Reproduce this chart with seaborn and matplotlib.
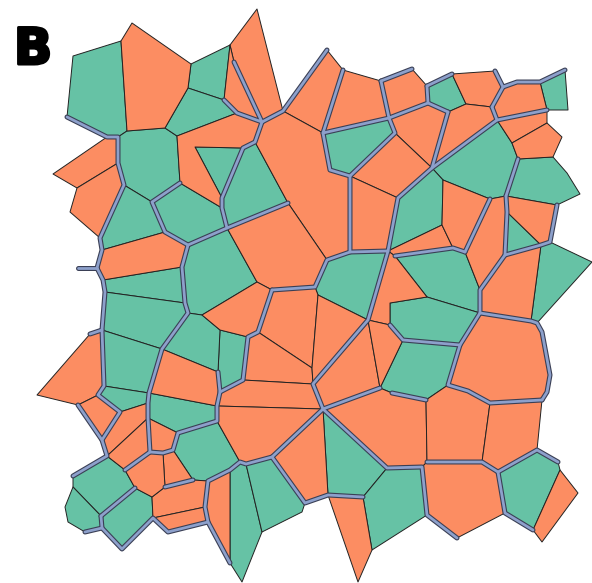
import matplotlib
matplotlib.use("Agg")
import matplotlib.pyplot as plt
import seaborn as sns
from matplotlib.patches import Polygon
from matplotlib.collections import PatchCollection, LineCollection
from matplotlib import patheffects as pe

sns.set_theme(style="white")
pal = sns.color_palette("Set2")
TEAL, ORANGE, CABLE = pal[0], pal[1], pal[2]

# tissue vertices (x, y), image-style coordinates (y grows downward)
A1, A2, A3, A4, A5 = (73, 56), (121, 41), (132, 23), (191, 64), (188, 88)
A6, A7, A8, A9, A10 = (165, 128), (127, 131), (118, 137), (107, 137), (67, 117)
A11, A12, A13, A14, A15 = (177, 136), (180, 183), (152, 202), (124, 185), (118, 163)
A16, A17, A18, A19 = (53, 174), (77, 188), (100, 238), (70, 212)
C1, C2, C3 = (230, 45), (224, 100), (237, 113)
S1, S2, S3, S4 = (257, 9), (283, 111), (262, 122), (234, 62)
F1, F2, F3, F4, F5 = (255, 142), (243, 148), (195, 147), (222, 198), (222, 208)
G1, G2 = (288, 203), (227, 228)
H1, H2, L1 = (188, 245), (165, 232), (102, 250)
T1, T2, T3 = (327, 50), (343, 70), (323, 133)
V1, V2 = (381, 81), (389, 118)
Q2, Q3, QR = (330, 170), (350, 176), (395, 133)
P1, J1, J2, J3, J4 = (350, 252), (327, 260), (315, 287), (272, 290), (257, 282)
W1, W2, W3 = (412, 69), (427, 86), (428, 103)
X1, X2, X3 = (452, 74), (466, 104), (448, 112)
Y1, Y2, Y3 = (495, 71), (503, 87), (492, 107)
Z1, Z2, Z3, Z4 = (517, 82), (540, 82), (547, 110), (497, 120)
AA1, AA2 = (565, 70), (568, 110)
AB2, AB3, AB5, AB6, AB7 = (547, 123), (512, 143), (518, 159), (562, 137), (553, 157)
AG2a, AG2b, AG2c = (567, 173), (580, 194), (557, 205)
AE1, AD1, AH2, AH3 = (432, 168), (398, 198), (443, 180), (442, 225)
R1, R2 = (490, 199), (506, 196)
AI2a, AI2b, AJ2b = (453, 248), (395, 256), (465, 252)
AK2b, AK2c, AK2d = (507, 212), (505, 255), (480, 290)
AL2a, AM2a = (541, 245), (550, 242)
AN1, AN2, AN3, AO1 = (592, 262), (537, 323), (531, 321), (480, 313)
AQ1, AP1 = (427, 297), (390, 303)
AR1, AR2, AR3 = (460, 345), (403, 340), (390, 325)
AS1, AS2, AS3, AS4, AS5 = (542, 332), (550, 375), (547, 392), (542, 400), (490, 403)
BV1, AT1, AT2, AT3, AX1 = (468, 391), (448, 385), (426, 400), (392, 393), (380, 388)
K1, K2, K3 = (182, 267), (103, 280), (97, 268)
M1, M2 = (185, 303), (105, 292)
N1, N2, N3, I1 = (188, 313), (162, 349), (102, 330), (202, 315)
QQ1, QQ2, QQ3 = (388, 251), (368, 320), (318, 295)
AJ0, AJ1, AJ3 = (248, 337), (258, 332), (243, 380)
AK1, AL_b, AM1 = (220, 330), (220, 392), (218, 372)
AW1, AW2, AZ2, BU0 = (313, 384), (312, 368), (217, 406), (323, 409)
BU5, BT1, BR2, BR3, BQ1 = (427, 462), (422, 467), (387, 468), (363, 497), (328, 495)
BV2, BW1, BW2 = (482, 462), (537, 450), (498, 472)
BX1, BX2, BX3, BZ1, BZ2 = (558, 462), (560, 470), (533, 530), (505, 513), (457, 538)
BY1, BY2 = (578, 493), (542, 542)
BT2, BT3, BS1 = (427, 515), (372, 550), (358, 582)
BA1, BO1, XA, BJ2 = (272, 457), (246, 464), (240, 462), (217, 421)
BP1, BP2, BO2, BO3 = (305, 503), (302, 512), (262, 532), (242, 582)
BN1, BN3, BN4, BN5, BO4 = (208, 481), (230, 563), (208, 522), (205, 507), (230, 470)
BM2a = (168, 532)
O4a, O4b, O4c, O4d, O4e = (90, 334), (104, 386), (98, 395), (78, 405), (37, 395)
O5r, O5s, O6a, O6b = (149, 393), (148, 403), (120, 412), (102, 440)
BI0, BDm, BH1, BDb = (148, 418), (107, 456), (150, 452), (125, 470)
BH2, BH3, BH4, BE2 = (163, 453), (165, 487), (152, 497), (135, 488)
BI1, BI2, BK1 = (178, 433), (173, 450), (193, 480)
BE1, BE3, BE4 = (73, 476), (101, 516), (73, 487)
BF1, BF2, BF3, BF4 = (102, 528), (85, 532), (68, 522), (65, 507)
BG1, BG2 = (153, 518), (122, 549)
DANGLE = (78, 268)

# cells of each type, as vertex rings
teal_cells = [
    [A1, A2, A7, A8, A9, A10],
    [A8, A7, A6, A11, A12, A13, A14, A15],
    [A4, C1, C2, A5],
    [A5, C2, C3, A11, A6],
    [F3, F2, F4],
    [F2, F1, G1, G2, F5, F4],
    [A13, A12, F5, G2, H1, H2],
    [A14, A13, H2, L1, A18],
    [W2, X1, X2, X3, W3],
    [Z2, AA1, AA2, Z3],
    [K2, K1, M1, M2],
    [M2, M1, N1, N2, N3],
    [H1, G2, J4, I1, N1, M1, K1],
    [T3, V2, QR, Q3, Q2],
    [J1, P1, QQ1, QQ2, QQ3, J2],
    [AE1, Z4, AB3, AB5, R2, R1, AH2],
    [AB5, AB7, AG2a, AG2b, AG2c, R2],
    [AD1, AE1, AH2, AH3, QQ1],
    [AK2b, AL2a, AK2c],
    [AL2a, AM2a, AN1, AN2, AN3],
    [AI2b, AI2a, AJ2b, AK2d, AO1, AQ1],
    [AP1, AQ1, AO1, AR1, AR2, AR3],
    [AR2, AR1, AT1, AT2, AT3, AX1],
    [AK1, AJ0, AJ3, AL_b, AM1],
    [N1, I1, AK1, AM1, N2],
    [N3, N2, O5r, O4b],
    [O4b, O5r, O5s, O6a, O4c],
    [O5r, AZ2, BJ2, BI1, BI0, O5s],
    [BI1, BJ2, XA, BO4, BN1, BK1, BI2],
    [BE1, BDm, BDb, BE2, BE3, BE4],
    [BE4, BE3, BF1, BF2, BF3, BF4],
    [BE3, BE2, BH4, BG1, BG2, BF1],
    [XA, BO1, BO2, BO3, BN3, BO4],
    [BO1, BA1, BP1, BP2, BO2],
    [BU0, BR2, BR3, BQ1],
    [BR2, BT1, BT2, BT3, BR3],
    [BW2, BW1, BX1, BX2, BX3, BZ1],
]
orange_cells = [
    [A2, A3, A4, A5, A6, A7],
    [A16, A9, A8, A15, A17],
    [A17, A15, A14, A18, A19],
    [S1, S2, S3, S4, C1],
    [C1, S4, S3, C3, C2],
    [A11, C3, S3, F1, F2, F3, F4, F5, A12],
    [S2, T1, T2, T3],
    [S3, S2, T3, Q2, Q3, P1, J1, G1, F1],
    [T2, V1, V2, T3],
    [V1, W1, W2, W3, V2],
    [X1, Y1, Y2, Y3, X2],
    [Y2, Z1, Z2, Z3, Z4, Y3],
    [L1, H2, H1, K1, K2, K3],
    [G2, G1, J1, J2, J3, J4],
    [Z4, Z3, AB2, AB3],
    [AB3, AB2, AB6, AB7, AB5],
    [X3, X2, Y3, Z4, AE1],
    [V2, W3, X3, AE1, QR],
    [QR, AE1, AD1, Q3],
    [Q3, AD1, QQ1, P1],
    [QQ1, AH3, AI2a, AI2b],
    [AH2, R1, AJ2b, AI2a, AH3],
    [R1, R2, AK2b, AK2c, AK2d, AJ2b],
    [R2, AG2c, AM2a, AL2a, AK2b],
    [AK2c, AL2a, AN3, AO1, AK2d],
    [QQ1, AI2b, AQ1, AP1, AR3, QQ2],
    [AO1, AN3, AN2, AS1, AS2, AS3, AS4, AS5, BV1, AT1, AR1],
    [I1, J4, J3, AJ1, AJ0, AK1],
    [J3, J2, QQ3, AW2, AJ1],
    [AJ0, AJ1, AW2, AW1, AJ3],
    [QQ3, QQ2, AW1, AW2],
    [AW1, QQ2, AX1, BU0],
    [QQ2, AR3, AR2, AX1],
    [AJ3, AW1, BU0, AZ2, AL_b],
    [N2, AM1, AL_b, AZ2, O5r],
    [BU0, AX1, AT3, AT2, BU5, BT1, BR2],
    [AT2, AT1, BV1, AS5, BV2, BU5],
    [AS5, AS4, BW1, BW2, BV2],
    [BU5, BV2, BW2, BZ1, BZ2, BT2, BT1],
    [BX2, BY1, BY2, BX3],
    [BQ1, BR3, BT3, BS1],
    [BA1, BU0, BQ1, BP1],
    [AZ2, BU0, BA1, BO1, XA, BJ2],
    [BN1, BO4, BN3, BN4, BN5],
    [BH4, BH3, BK1, BN1, BN5, BG1],
    [BG1, BN5, BN4, BM2a],
    [BH2, BI2, BK1, BH3],
    [BI0, BI1, BI2, BH2, BH1],
    [BDb, BH1, BH2, BH3, BH4, BE2],
    [O6b, O6a, O5s, BI0, BDm],
    [BDm, BI0, BH1, BDb],
    [O4a, N3, O4b, O4c, O4d, O4e],
    [O4d, O4c, O6a, O6b],
]

# contractile cables along cell junctions
cables = [
    [A10, A9, A8, A15, A14, A18, L1, K3, K2, M2, N3, O4b, O4c, O6a, O6b],
    [O4a, N3],
    [K3, DANGLE],
    [O4d, O6b, BDm, BE1],
    [A12, A13, H2, H1, G2, F5, F4, F2, F1, S3],
    [S4, S3, C3, C2],
    [S3, S2, T1],
    [T2, T3, Q2, Q3, P1],
    [G2, G1],
    [J3, J2, J1, P1, QQ1, QQ2, AW1, BU0, AX1],
    [H1, K1, M1, N1, N2, O5r, O5s, BI0, BH1, BH2, BI2, BI1, BJ2, AZ2, AL_b, AM1],
    [V1, V2, T3], [V2, QR, Q3],
    [V1, W1], [W2, W3, V2], [W2, X1], [W3, X3],
    [Y1, Y2, Y3], [Y2, Z1, Z2, AA1], [Y3, Z4, Z3],
    [X3, AE1, AD1, QQ1], [Z4, AE1],
    [AB5, R2], [R1, AJ2b], [AI2b, AI2a, AJ2b],
    [R2, AK2b, AK2c, AK2d, AO1, AN3, AN2, AS1, AS2, AS3, AS4],
    [AK2c, AL2a, AM2a, AG2c],
    [AR3, AR2, AR1, AO1],
    [AR1, AT1, BV1, AS5, AS4],
    [AT3, AT2],
    [BU0, BR2, BT1, BT2, BZ2],
    [BR3, BQ1, BP1, BA1, BU0],
    [BA1, BO1, XA, BO4, BN1, BN5, BN4, BN3],
    [BU5, BV2, BW2, BW1, BX1], [BW2, BZ1, BX3],
    [BE3, BE2], [BE3, BF1], [BF2, BF1, BG2, BG1, BM2a, BN4],
    [BDb, BH1], [BH3, BK1],
    [J3, AJ1, AJ0, AJ3, AL_b],
]

fig = plt.figure(figsize=(5.92, 5.83), dpi=100)
ax = fig.add_axes([0, 0, 1, 1])
ax.set_xlim(0, 592)
ax.set_ylim(583, 0)
ax.set_axis_off()

for cells, color in ((teal_cells, TEAL), (orange_cells, ORANGE)):
    patches = [Polygon(c, closed=True) for c in cells]
    ax.add_collection(PatchCollection(patches, facecolor=color,
                                      edgecolor="#222222", linewidth=0.7,
                                      joinstyle="round"))

lc = LineCollection(cables, colors=[CABLE], linewidths=2.0,
                    capstyle="round", joinstyle="round")
lc.set_path_effects([pe.Stroke(linewidth=3.6, foreground="#3a3f55"), pe.Normal()])
ax.add_collection(lc)

ax.text(14, 64, "B", fontsize=36, fontweight="bold", color="black",
        family="DejaVu Sans", ha="left", va="baseline",
        path_effects=[pe.withStroke(linewidth=2.2, foreground="black")])

fig.savefig("out.png", dpi=100)
